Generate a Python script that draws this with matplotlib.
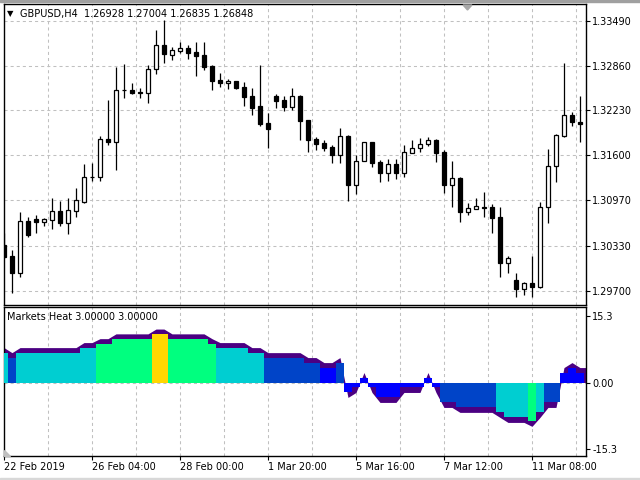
import matplotlib
matplotlib.use('Agg')
import matplotlib.pyplot as plt
import numpy as np
from matplotlib.patches import Polygon, Rectangle

plt.rcParams['font.family'] = ['DejaVu Sans']
plt.rcParams['lines.scale_dashes'] = False

# GBPUSD H4 candles
opens = [1.30342, 1.30187, 1.29944, 1.30678, 1.30706, 1.30669, 1.30697, 1.30819, 1.30655, 1.30823,
         1.30941, 1.31292, 1.31292, 1.31825, 1.31792, 1.32520, 1.32517, 1.32489, 1.32471, 1.32808,
         1.33145, 1.33004, 1.33069, 1.33103, 1.33055, 1.33009, 1.32854, 1.32658, 1.32616, 1.32644,
         1.32555, 1.32433, 1.32293, 1.32050, 1.32433, 1.32377, 1.32283, 1.32437, 1.32096, 1.31825,
         1.31769, 1.31721, 1.31601, 1.31876, 1.31180, 1.31521, 1.31783, 1.31502, 1.31356, 1.31474,
         1.31356, 1.31637, 1.31699, 1.31755, 1.31815, 1.31651, 1.31180, 1.31278, 1.30800, 1.30851,
         1.30879, 1.30871, 1.30730, 1.30093, 1.29846, 1.29724, 1.29804, 1.29756, 1.30879, 1.31450,
         1.31872, 1.32166, 1.32068]
highs = [1.30506, 1.30271, 1.30805, 1.30739, 1.30763, 1.30720, 1.30997, 1.30959, 1.30997, 1.31146,
         1.31478, 1.31497, 1.31872, 1.32377, 1.32844, 1.32882, 1.32611, 1.32541, 1.32868, 1.33359,
         1.33500, 1.33125, 1.33191, 1.33153, 1.33191, 1.33191, 1.32868, 1.32752, 1.32667, 1.32648,
         1.32634, 1.32541, 1.32868, 1.32190, 1.32461, 1.32433, 1.32545, 1.32440, 1.32100, 1.31862,
         1.31815, 1.31745, 1.31988, 1.31886, 1.31605, 1.31792, 1.31790, 1.31535, 1.31549, 1.31549,
         1.31745, 1.31815, 1.31848, 1.31862, 1.31825, 1.31675, 1.31521, 1.31300, 1.30927, 1.30997,
         1.31081, 1.30917, 1.30875, 1.30187, 1.29944, 1.29826, 1.30187, 1.30941, 1.31689, 1.31900,
         1.32892, 1.32204, 1.32433]
lows = [1.30155, 1.29672, 1.29897, 1.30458, 1.30506, 1.30608, 1.30570, 1.30608, 1.30496, 1.30739,
        1.30927, 1.31244, 1.31244, 1.31745, 1.31394, 1.32409, 1.32461, 1.32401, 1.32331, 1.32742,
        1.32900, 1.32938, 1.33032, 1.32957, 1.32714, 1.32798, 1.32517, 1.32555, 1.32527, 1.32536,
        1.32293, 1.32166, 1.32012, 1.31699, 1.32260, 1.32222, 1.32237, 1.31815, 1.31651, 1.31675,
        1.31665, 1.31497, 1.31497, 1.30963, 1.31062, 1.31515, 1.31441, 1.31230, 1.31244, 1.31264,
        1.31300, 1.31630, 1.31651, 1.31735, 1.31511, 1.31076, 1.30879, 1.30669, 1.30763, 1.30843,
        1.30739, 1.30514, 1.29897, 1.29953, 1.29607, 1.29635, 1.29616, 1.29734, 1.30646, 1.31230,
        1.31862, 1.32016, 1.31792]
closes = [1.30177, 1.29944, 1.30678, 1.30482, 1.30669, 1.30706, 1.30819, 1.30655, 1.30833, 1.30969,
          1.31292, 1.31290, 1.31825, 1.31792, 1.32517, 1.32515, 1.32479, 1.32475, 1.32812, 1.33145,
          1.33018, 1.33079, 1.33111, 1.33041, 1.32999, 1.32844, 1.32648, 1.32611, 1.32648, 1.32545,
          1.32423, 1.32269, 1.32040, 1.31974, 1.32367, 1.32283, 1.32433, 1.32086, 1.31815, 1.31759,
          1.31707, 1.31601, 1.31872, 1.31180, 1.31521, 1.31783, 1.31497, 1.31356, 1.31474, 1.31356,
          1.31643, 1.31699, 1.31755, 1.31811, 1.31637, 1.31180, 1.31278, 1.30809, 1.30857, 1.30885,
          1.30865, 1.30725, 1.30093, 1.30155, 1.29720, 1.29804, 1.29756, 1.30879, 1.31450, 1.31886,
          1.32166, 1.32072, 1.32036]

# Markets Heat indicator values per bar
heat = [6.85, 5.7, 6.85, 6.85, 6.85, 6.85, 6.85, 6.85, 6.85, 6.85,
        8.0, 8.0, 8.9, 8.9, 10.0, 10.0, 10.0, 10.0, 10.0, 11.1,
        11.1, 10.0, 10.0, 10.0, 10.0, 10.0, 8.9, 8.0, 8.0, 8.0,
        8.0, 6.85, 6.85, 5.7, 5.7, 5.7, 5.7, 5.7, 4.57, 4.57,
        3.42, 3.42, 4.57, -2.28, -1.14, 1.14, -1.14, -3.42, -3.42, -3.42,
        -1.14, -1.14, -1.14, 1.14, -1.14, -4.57, -4.57, -5.7, -5.7, -5.7,
        -5.7, -5.7, -6.85, -8.0, -8.0, -8.0, -8.9, -6.85, -4.57, -4.57,
        2.28, 3.42, 2.28]

price_ticks = [1.29700, 1.30330, 1.30970, 1.31600, 1.32230, 1.32860, 1.33490]
heat_ticks = [-15.3, 0.0, 15.3]
heat_tick_labels = ['-15.3', '0.00', '15.3']
date_pos = [0, 11, 22, 33, 44, 55, 66]
date_labels = ['22 Feb 2019', '26 Feb 04:00', '28 Feb 00:00', '1 Mar 20:00',
               '5 Mar 16:00', '7 Mar 12:00', '11 Mar 08:00']

W, H = 640, 480
fig = plt.figure(figsize=(6.4, 4.8), dpi=100)

def fx(px):
    return px / W

def fy(py):
    return 1 - py / H

ax = fig.add_axes([fx(3.5), fy(305), fx(585.5) - fx(3.5), fy(4) - fy(305)])
ax2 = fig.add_axes([fx(3.5), fy(456), fx(585.5) - fx(3.5), fy(307) - fy(456)])

grid_kw = dict(color='#C0C0C0', lw=0.75, linestyle=(0, (2.2, 2.2)), zorder=0)
x = np.arange(len(opens))
vgrid = np.arange(1, 14) * 5.5

# ---- main price panel ----
for g in vgrid:
    ax.axvline(g, **grid_kw)
for p in price_ticks:
    ax.axhline(p, **grid_kw)

o = np.array(opens)
c = np.array(closes)
ax.vlines(x, lows, highs, color='black', lw=0.9, zorder=2)
body_lo = np.minimum(o, c)
body_h = np.abs(c - o)
faces = ['white' if cc > oo else 'black' for oo, cc in zip(o, c)]
ax.bar(x, body_h, bottom=body_lo, width=0.6, color=faces, edgecolor='black', lw=0.9, zorder=3)

ax.set_xlim(-0.06, 72.69)
ax.set_ylim(1.29499, 1.33724)
ax.set_xticks([])
ax.yaxis.tick_right()
ax.set_yticks(price_ticks)
ax.set_yticklabels(['%.5f' % p for p in price_ticks])
ax.tick_params(axis='y', direction='out', length=3, width=0.8, labelsize=7, pad=2)

# ---- Markets Heat panel ----
for g in vgrid:
    ax2.axvline(g, **grid_kw)
ax2.axhline(0, **grid_kw)

def heat_color(v):
    a = abs(v)
    if a < 4:
        return '#0000FF'
    if a < 6.5:
        return '#0044C8'
    if a < 8.5:
        return '#00CED1'
    if a < 10.5:
        return '#00FF7F'
    return '#FFD700'

hv = np.array(heat)
env = hv + np.sign(hv) * 1.14
xe = np.concatenate([[-0.5], x, [72.7]])
ee = np.concatenate([[env[0]], env, [env[-1]]])
ax2.fill_between(xe, 0, ee, color='#4B0082', lw=0, interpolate=True, zorder=2)
ax2.bar(x, hv, width=1.0, color=[heat_color(v) for v in heat], lw=0, zorder=3)

ax2.set_xlim(-0.06, 72.69)
ax2.set_ylim(-16.83, 17.29)
ax2.yaxis.tick_right()
ax2.set_yticks(heat_ticks)
ax2.set_yticklabels(heat_tick_labels)
ax2.set_xticks(date_pos)
ax2.set_xticklabels(date_labels)
for lbl in ax2.get_xticklabels():
    lbl.set_ha('left')
ax2.tick_params(axis='y', direction='out', length=3, width=0.8, labelsize=7, pad=2)
ax2.tick_params(axis='x', direction='out', length=3, width=0.8, labelsize=7, pad=1)

for a in (ax, ax2):
    for s in a.spines.values():
        s.set_linewidth(1.0)
        s.set_color('black')

# labels
fig.text(fx(7), fy(14), '\u25BC', fontsize=6, va='center', ha='left')
fig.text(fx(20.5), fy(14), 'GBPUSD,H4  1.26928 1.27004 1.26835 1.26848', fontsize=7, va='center', ha='left')
fig.text(fx(7), fy(317.5), 'Markets Heat 3.00000 3.00000', fontsize=7, va='center', ha='left')

# small terminal markers
fig.add_artist(Polygon([(fx(463), fy(5)), (fx(472), fy(5)), (fx(467.5), fy(10))],
                       closed=True, color='#A8A8A8', transform=fig.transFigure))
fig.add_artist(Polygon([(fx(3.5), fy(450)), (fx(3.5), fy(456)), (fx(10), fy(456))],
                       closed=True, color='#C0C0C0', transform=fig.transFigure))
fig.add_artist(Rectangle((0, fy(1.5)), 1, 1.5 / H, color='#A0A0A0', transform=fig.transFigure))
fig.add_artist(Rectangle((0, 0), 1, 2 / H, color='#D8D8D8', transform=fig.transFigure))

fig.savefig('out.png', dpi=100)
